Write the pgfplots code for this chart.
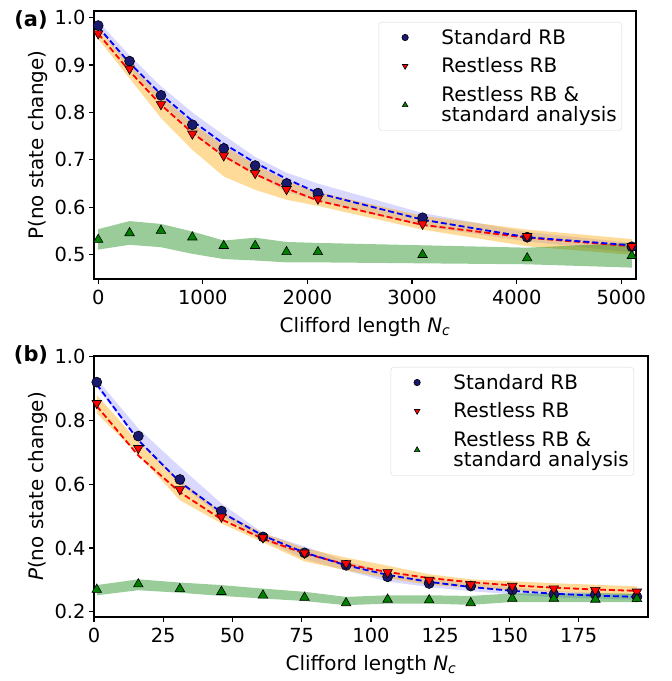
\documentclass[border=0pt]{standalone}
\usepackage{fontspec}
\setmainfont{DejaVu Sans}
\usepackage{pgfplots}
\pgfplotsset{compat=1.18}
\usepackage{pgfplotstable}
\usepgfplotslibrary{fillbetween}

\definecolor{navy}{HTML}{191970}
\definecolor{mplorange}{HTML}{FFA500}
\definecolor{mplgreen}{HTML}{008000}

\pgfplotstableread{
x    std   stdfit stdlo stdhi rl    rlfit rllo  rlhi  gr    grlo  grhi
0    0.983 0.980  0.975 0.992 0.966 0.966 0.955 0.977 0.532 0.511 0.554
300  0.908 0.904  0.893 0.920 0.892 0.887 0.872 0.902 0.546 0.521 0.571
600  0.836 0.838  0.820 0.855 0.817 0.816 0.788 0.835 0.551 0.516 0.565
900  0.774 0.782  0.757 0.800 0.755 0.757 0.721 0.777 0.537 0.502 0.549
1200 0.724 0.734  0.705 0.752 0.709 0.708 0.665 0.730 0.519 0.491 0.530
1500 0.688 0.694  0.670 0.706 0.672 0.670 0.637 0.690 0.519 0.488 0.536
1800 0.650 0.660  0.632 0.673 0.638 0.640 0.616 0.656 0.506 0.484 0.527
2100 0.630 0.630  0.615 0.650 0.618 0.614 0.603 0.632 0.506 0.484 0.525
3100 0.578 0.574  0.560 0.588 0.565 0.563 0.553 0.582 0.500 0.482 0.520
4100 0.537 0.537  0.528 0.548 0.539 0.536 0.518 0.553 0.493 0.480 0.515
5100 0.517 0.520  0.505 0.525 0.518 0.518 0.500 0.533 0.498 0.473 0.525
}\dataA

\pgfplotstableread{
x    std   stdfit stdlo stdhi rl    rlfit rllo  rlhi  gr    grlo  grhi
1    0.920 0.913  0.905 0.930 0.854 0.845 0.822 0.880 0.270 0.252 0.284
16   0.751 0.738  0.735 0.775 0.713 0.690 0.692 0.733 0.287 0.268 0.302
31   0.615 0.607  0.600 0.655 0.584 0.575 0.550 0.613 0.272 0.260 0.292
46   0.516 0.512  0.500 0.540 0.498 0.490 0.477 0.514 0.263 0.250 0.284
61   0.435 0.439  0.425 0.447 0.433 0.429 0.418 0.447 0.252 0.242 0.273
76   0.385 0.386  0.365 0.405 0.385 0.383 0.358 0.400 0.245 0.234 0.263
91   0.346 0.346  0.330 0.360 0.352 0.349 0.330 0.370 0.228 0.221 0.247
106  0.310 0.316  0.295 0.322 0.324 0.325 0.305 0.345 0.239 0.226 0.252
121  0.289 0.294  0.278 0.302 0.300 0.306 0.285 0.318 0.237 0.226 0.252
136  0.281 0.278  0.265 0.290 0.286 0.293 0.275 0.302 0.228 0.222 0.250
151  0.268 0.266  0.255 0.277 0.281 0.283 0.268 0.296 0.242 0.231 0.258
166  0.255 0.257  0.245 0.266 0.273 0.276 0.262 0.290 0.242 0.231 0.258
181  0.255 0.251  0.242 0.260 0.268 0.270 0.258 0.285 0.239 0.231 0.258
196  0.247 0.247  0.238 0.255 0.263 0.266 0.254 0.280 0.241 0.231 0.257
}\dataB

\pgfplotsset{
  rbaxis/.style={
    scale only axis, anchor=south west,
    axis line style={line width=1.6bp},
    tick style={black, line width=1.2bp},
    major tick length=5bp,
    tick align=outside,
    tick pos=left,
    every tick label/.append style={font=\fontsize{19.5}{22}\selectfont},
    xticklabel style={yshift=-3bp},
    label style={font=\fontsize{20}{23}\selectfont},
    xlabel style={yshift=-5bp},
    /pgf/number format/assume math mode=true,
    scaled ticks=false,
    xticklabel style={/pgf/number format/.cd, set thousands separator={}},
    legend style={at={(1,1)}, anchor=north east, xshift=-14bp, yshift=-11bp,
      draw=black!15, rounded corners=3bp, fill=white,
      font=\fontsize{20}{20.5}\selectfont,
      cells={anchor=west, align=left}, row sep=8bp,
      inner xsep=3bp, inner ysep=5bp},
    legend image code/.code={\path (0bp,0bp) (57bp,0bp);
      \draw[##1, mark size=3.2bp] plot coordinates {(23bp,0bp)};},
  },
  band/.style={draw=none, forget plot},
  stdmark/.style={only marks, mark=*, mark size=5bp, draw=black, fill=navy, line width=0.6bp},
  rlmark/.style={only marks, mark=triangle*, mark size=5.5bp, mark options={rotate=180}, draw=black, fill=red, line width=0.6bp},
  grmark/.style={only marks, mark=triangle*, mark size=5.5bp, draw=black, fill=mplgreen, line width=0.6bp},
  fitline/.style={dash pattern=on 6bp off 3bp, line width=1.8bp, forget plot},
}

\begin{document}
\begin{tikzpicture}
\path (0bp,0bp) rectangle (672bp,681bp);

\begin{axis}[rbaxis, at={(94bp,402bp)}, width=542bp, height=268bp,
  xmin=-40, xmax=5140, ymin=0.449, ymax=1.0137,
  xtick={0,1000,2000,3000,4000,5000},
  ytick={0.5,0.6,0.7,0.8,0.9,1.0},
  yticklabel style={/pgf/number format/.cd, fixed, fixed zerofill, precision=1},
  xlabel={Clifford length \textit{N}\textsubscript{\textit{c}}},
  ylabel={P(no state change)},
]
\addplot[band, name path=sAhi] table[x=x, y=stdhi] {\dataA};
\addplot[band, name path=sAlo] table[x=x, y=stdlo] {\dataA};
\addplot[band, name path=rAhi] table[x=x, y=rlhi] {\dataA};
\addplot[band, name path=rAlo] table[x=x, y=rllo] {\dataA};
\addplot[band, name path=gAhi] table[x=x, y=grhi] {\dataA};
\addplot[band, name path=gAlo] table[x=x, y=grlo] {\dataA};
\addplot[fill=blue, fill opacity=0.15, draw=none, forget plot] fill between[of=sAhi and sAlo];
\addplot[fill=mplorange, fill opacity=0.4, draw=none, forget plot] fill between[of=rAhi and rAlo];
\addplot[fill=mplgreen, fill opacity=0.4, draw=none, forget plot] fill between[of=gAhi and gAlo];
\addplot[fitline, red] table[x=x, y=rlfit] {\dataA};
\addplot[fitline, blue] table[x=x, y=stdfit] {\dataA};
\addplot[stdmark] table[x=x, y=std] {\dataA};
\addplot[rlmark] table[x=x, y=rl] {\dataA};
\addplot[grmark] table[x=x, y=gr] {\dataA};
\legend{Standard RB, Restless RB, Restless RB \&\\standard analysis}
\end{axis}

\begin{axis}[rbaxis, at={(94bp,64bp)}, width=554bp, height=261bp,
  xmin=0, xmax=200, ymin=0.184, ymax=1.002,
  xtick={0,25,50,75,100,125,150,175},
  ytick={0.2,0.4,0.6,0.8,1.0},
  yticklabel style={/pgf/number format/.cd, fixed, fixed zerofill, precision=1},
  xlabel={Clifford length \textit{N}\textsubscript{\textit{c}}},
  ylabel={\textit{P}(no state change)},
]
\addplot[band, name path=sBhi] table[x=x, y=stdhi] {\dataB};
\addplot[band, name path=sBlo] table[x=x, y=stdlo] {\dataB};
\addplot[band, name path=rBhi] table[x=x, y=rlhi] {\dataB};
\addplot[band, name path=rBlo] table[x=x, y=rllo] {\dataB};
\addplot[band, name path=gBhi] table[x=x, y=grhi] {\dataB};
\addplot[band, name path=gBlo] table[x=x, y=grlo] {\dataB};
\addplot[fill=blue, fill opacity=0.15, draw=none, forget plot] fill between[of=sBhi and sBlo];
\addplot[fill=mplorange, fill opacity=0.4, draw=none, forget plot] fill between[of=rBhi and rBlo];
\addplot[fill=mplgreen, fill opacity=0.4, draw=none, forget plot] fill between[of=gBhi and gBlo];
\addplot[fitline, red] table[x=x, y=rlfit] {\dataB};
\addplot[fitline, blue] table[x=x, y=stdfit] {\dataB};
\addplot[stdmark] table[x=x, y=std] {\dataB};
\addplot[rlmark] table[x=x, y=rl] {\dataB};
\addplot[grmark] table[x=x, y=gr] {\dataB};
\legend{Standard RB, Restless RB, Restless RB \&\\standard analysis}
\end{axis}

\node[font=\fontsize{21}{24}\selectfont\bfseries] at (31bp,661bp) {(a)};
\node[font=\fontsize{21}{24}\selectfont\bfseries] at (31bp,326bp) {(b)};
\end{tikzpicture}
\end{document}
